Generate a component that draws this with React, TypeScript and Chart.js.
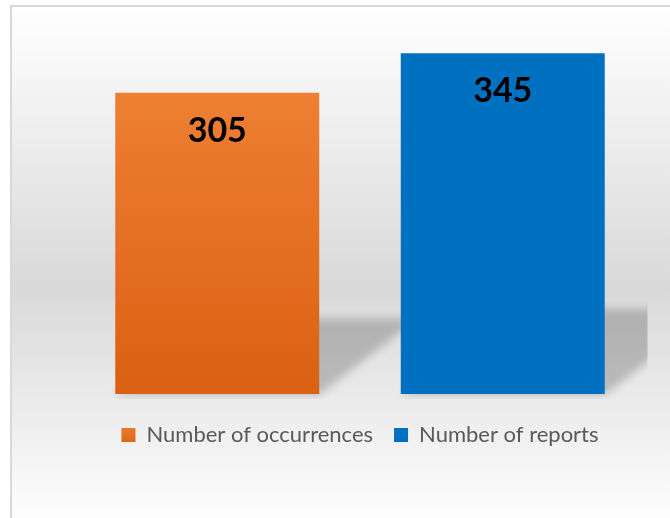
import React, { useEffect, useRef } from "react";
import { Chart, registerables } from "chart.js";

Chart.register(...registerables);

const categories = ["Number of occurrences", "Number of reports"];
const occurrences = [305, null];
const reports = [null, 345];
const seriesNames = ["Number of occurrences", "Number of reports"];

const ORANGE_TOP = "#EE7F33";
const ORANGE_BOTTOM = "#DA6013";
const BLUE = "#0070C0";

const fin = (...v: number[]) => v.every((n) => Number.isFinite(n));

const backgroundPlugin = {
  id: "bgPlugin",
  beforeDraw(chart: any) {
    const { ctx, width, height } = chart;
    ctx.save();
    ctx.fillStyle = "#ffffff";
    ctx.fillRect(0, 0, width, height);
    const g = ctx.createLinearGradient(0, 5, 0, height);
    g.addColorStop(0, "#ffffff");
    g.addColorStop(0.55, "#d9d9d9");
    g.addColorStop(1, "#fdfdfd");
    ctx.fillStyle = g;
    ctx.fillRect(10, 5, width - 10, height - 5);
    ctx.fillStyle = "#d9d9d9";
    ctx.fillRect(10, 5, 2, height - 5);
    ctx.fillRect(10, 5, width - 10, 2);
    ctx.restore();
    const lg = chart.legend;
    if (lg && lg.legendItems && lg.legendHitBoxes && lg.legendHitBoxes[0]) {
      const hb = lg.legendHitBoxes[0];
      if (fin(hb.top, hb.height)) {
        const lgGrad = ctx.createLinearGradient(0, hb.top, 0, hb.top + hb.height);
        lgGrad.addColorStop(0, ORANGE_TOP);
        lgGrad.addColorStop(1, ORANGE_BOTTOM);
        lg.legendItems[0].fillStyle = lgGrad;
      }
    }
  },
};

const shadowPlugin = {
  id: "shadowPlugin",
  beforeDatasetsDraw(chart: any) {
    const { ctx, chartArea } = chart;
    ctx.save();
    ctx.beginPath();
    ctx.rect(chartArea.left - 10, chartArea.top, chartArea.right - chartArea.left + 12, chartArea.bottom - chartArea.top + 5);
    ctx.clip();
    ctx.filter = "blur(4px)";
    ctx.fillStyle = "rgba(0,0,0,0.2)";
    chart.data.datasets.forEach((ds: any, di: number) => {
      const meta = chart.getDatasetMeta(di);
      meta.data.forEach((el: any, i: number) => {
        if (ds.data[i] == null) return;
        if (!fin(el.x, el.y, el.base, el.width)) return;
        const L = el.x - el.width / 2;
        const R = el.x + el.width / 2;
        const h = el.base - el.y;
        const sh = 0.25 * h;
        const s = 1.3 * sh;
        ctx.beginPath();
        ctx.moveTo(L, el.base + 1);
        ctx.lineTo(R, el.base + 1);
        ctx.lineTo(R + s, el.base - sh);
        ctx.lineTo(L + s, el.base - sh);
        ctx.closePath();
        ctx.fill();
      });
    });
    ctx.restore();
  },
};

const labelPlugin = {
  id: "labelPlugin",
  afterDatasetsDraw(chart: any) {
    const { ctx } = chart;
    ctx.save();
    ctx.font = "bold 34px Lato, 'Open Sans', sans-serif";
    ctx.fillStyle = "#000000";
    ctx.textAlign = "center";
    ctx.textBaseline = "alphabetic";
    chart.data.datasets.forEach((ds: any, di: number) => {
      const meta = chart.getDatasetMeta(di);
      meta.data.forEach((el: any, i: number) => {
        const v = ds.data[i];
        if (v == null) return;
        ctx.fillText(String(v), el.x, el.y + 49);
      });
    });
    ctx.restore();
  },
};

export default function App() {
  const ref = useRef<HTMLCanvasElement>(null);
  useEffect(() => {
    if (!ref.current) return;
    const orangeFill = (c: any) => {
      const chart = c.chart;
      const y = chart.scales && chart.scales.y;
      if (!y || c.raw == null) return ORANGE_TOP;
      const top = y.getPixelForValue(c.raw);
      const bottom = y.getPixelForValue(0);
      if (!fin(top, bottom) || top === bottom) return ORANGE_TOP;
      const g = chart.ctx.createLinearGradient(0, top, 0, bottom);
      g.addColorStop(0, ORANGE_TOP);
      g.addColorStop(1, ORANGE_BOTTOM);
      return g;
    };
    const chart = new Chart(ref.current, {
      type: "bar",
      data: {
        labels: categories,
        datasets: [
          { label: seriesNames[0], data: occurrences, backgroundColor: orangeFill, borderWidth: 0 },
          { label: seriesNames[1], data: reports, backgroundColor: BLUE, borderWidth: 0 },
        ],
      },
      options: {
        responsive: false,
        animation: false,
        devicePixelRatio: 1,
        layout: { padding: { left: 74.5, right: 24.5, top: 18.75, bottom: 62 } },
        datasets: { bar: { grouped: false, categoryPercentage: 1, barPercentage: 0.7145 } },
        scales: {
          x: { display: false },
          y: { display: false, min: 0, max: 380 },
        },
        plugins: {
          tooltip: { enabled: false },
          legend: {
            display: true,
            position: "bottom",
            title: { display: true, text: " ", font: { size: 9, lineHeight: 1 }, padding: 0 },
            labels: {
              boxWidth: 14,
              boxHeight: 14,
              padding: 21,
              color: "#595959",
              font: { family: "Lato, 'Open Sans', sans-serif", size: 22 },
            },
          },
        },
      },
      plugins: [backgroundPlugin, shadowPlugin, labelPlugin],
    } as any);
    return () => chart.destroy();
  }, []);
  return (
    <div style={{ position: "absolute", left: 0, top: 0, width: 670, height: 518 }}>
      <canvas ref={ref} width={670} height={518} style={{ display: "block" }} />
    </div>
  );
}
